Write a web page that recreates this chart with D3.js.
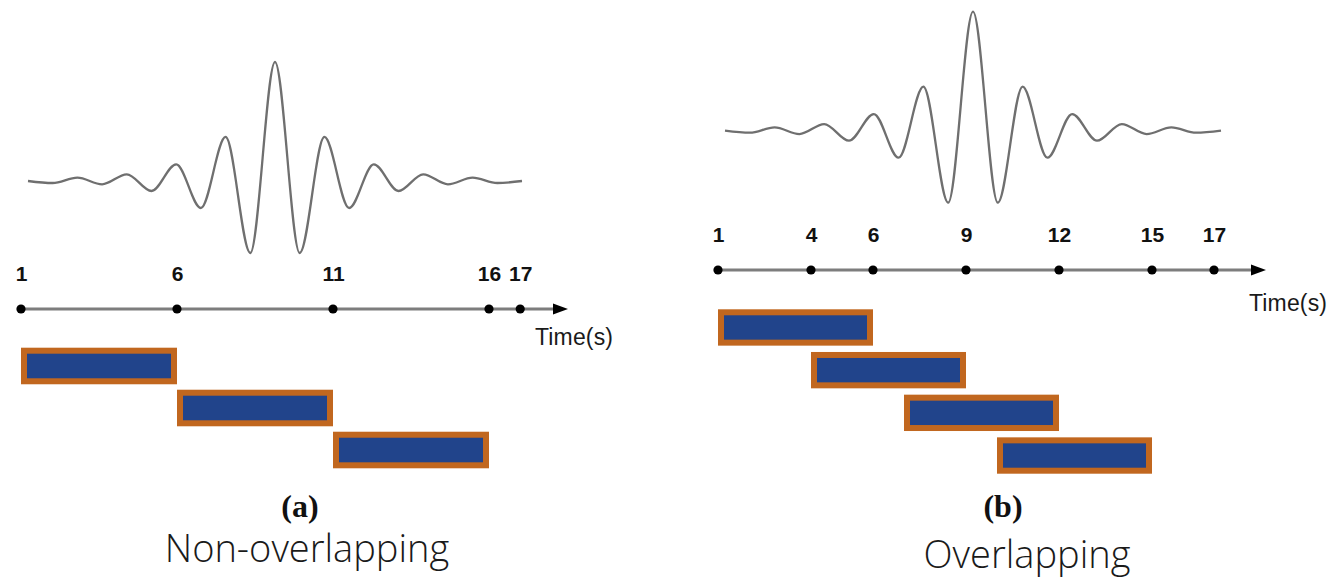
<!DOCTYPE html>
<html>
<head>
<meta charset="utf-8">
<script src="https://cdn.jsdelivr.net/npm/d3@7"></script>
<style>
  html, body { margin: 0; padding: 0; background: #fff; }
  svg { display: block; }
</style>
</head>
<body>
<svg id="chart" width="1334" height="579"></svg>
<script>
// wave shape: amplitude at each successive extremum (peak = 1)
const waveAmp = [0, -0.017, 0.028, -0.028, 0.056, -0.084, 0.14, -0.227, 0.37, -0.605, 1,
                 -0.605, 0.37, -0.227, 0.14, -0.084, 0.056, -0.028, 0.028, -0.017, 0];

// time ticks (seconds)
const ticksA = [1, 6, 11, 16, 17];
const ticksB = [1, 4, 6, 9, 12, 15, 17];

// analysis windows [start, end] in seconds
const windowsA = [[1, 6], [6, 11], [11, 16]];
const windowsB = [[1, 6], [4, 9], [7, 12], [10, 15]];

const tags = ['(a)', '(b)'];
const captions = ['Non-overlapping', 'Overlapping'];
const axisTitle = 'Time(s)';

const svg = d3.select('#chart');

const panels = [
  { ticks: ticksA, windows: windowsA, tag: tags[0], caption: captions[0],
    x0: 21, unit: 31.2, axisY: 309, axisEnd: 568,
    waveX: [28, 522], waveY: [181, 62],
    barTop: 347.7, rowStep: 40.2,
    titleX: 535, titleY: 345,
    tagX: 300, tagY: 517, capX: 307, capY: 562 },
  { ticks: ticksB, windows: windowsB, tag: tags[1], caption: captions[1],
    x0: 718, unit: 31, axisY: 270, axisEnd: 1266,
    waveX: [725, 1221], waveY: [130.7, 11.7],
    barTop: 309.3, rowStep: 41.1,
    titleX: 1249, titleY: 311,
    tagX: 1003, tagY: 517, capX: 1027, capY: 568 }
];

panels.forEach(function (p) {
  var g = svg.append('g');

  // wave
  var xw = d3.scaleLinear().domain([0, waveAmp.length - 1]).range(p.waveX);
  var yw = d3.scaleLinear().domain([0, 1]).range(p.waveY);
  var line = d3.line()
    .x(function (d, i) { return xw(i); })
    .y(function (d) { return yw(d); })
    .curve(d3.curveMonotoneX);
  g.append('path')
    .datum(waveAmp)
    .attr('d', line)
    .attr('fill', 'none')
    .attr('stroke', '#6f6f6f')
    .attr('stroke-width', 2.3);

  // time axis
  var x = d3.scaleLinear().domain([1, 17]).range([p.x0, p.x0 + 16 * p.unit]);

  g.append('line')
    .attr('x1', x(1)).attr('x2', p.axisEnd - 10)
    .attr('y1', p.axisY).attr('y2', p.axisY)
    .attr('stroke', '#7d7d7d')
    .attr('stroke-width', 2.8);

  g.append('path')
    .attr('d', 'M' + p.axisEnd + ',' + p.axisY + 'l-15,-5.5v11z')
    .attr('fill', '#000');

  var ax = g.append('g')
    .attr('transform', 'translate(0,' + p.axisY + ')')
    .call(d3.axisTop(x).tickValues(p.ticks).tickSize(0).tickPadding(28).tickFormat(d3.format('d')));
  ax.select('.domain').remove();
  ax.selectAll('text')
    .style('font-family', '"Liberation Sans", Arial, sans-serif')
    .style('font-size', '21px')
    .style('font-weight', 'bold')
    .attr('fill', '#111');

  g.selectAll('circle.tick-dot')
    .data(p.ticks)
    .enter()
    .append('circle')
    .attr('class', 'tick-dot')
    .attr('cx', function (d) { return x(d); })
    .attr('cy', p.axisY)
    .attr('r', 4.6)
    .attr('fill', '#000');

  g.append('text')
    .attr('x', p.titleX)
    .attr('y', p.titleY)
    .style('font-family', '"Liberation Sans", Arial, sans-serif')
    .style('font-size', '23px')
    .attr('fill', '#1a1a1a')
    .attr('textLength', 78)
    .text(axisTitle);

  // windows
  var n = p.windows.length;
  var row = d3.scaleBand()
    .domain(d3.range(n))
    .range([p.barTop, p.barTop + n * p.rowStep])
    .paddingInner(1 - 35 / p.rowStep)
    .paddingOuter(0);

  g.selectAll('rect.win')
    .data(p.windows)
    .enter()
    .append('rect')
    .attr('class', 'win')
    .attr('x', function (d) { return x(d[0]) + 3; })
    .attr('y', function (d, i) { return row(i) + 3; })
    .attr('width', function (d) { return x(d[1]) - x(d[0]) - 6; })
    .attr('height', row.bandwidth() - 6)
    .attr('fill', '#21448b')
    .attr('stroke', '#c1671f')
    .attr('stroke-width', 6);

  // labels
  g.append('text')
    .attr('x', p.tagX)
    .attr('y', p.tagY)
    .attr('text-anchor', 'middle')
    .style('font-family', '"Liberation Serif", "DejaVu Serif", serif')
    .style('font-size', '32px')
    .style('font-weight', 'bold')
    .attr('fill', '#111')
    .text(p.tag);

  g.append('text')
    .attr('x', p.capX)
    .attr('y', p.capY)
    .attr('text-anchor', 'middle')
    .style('font-family', '"Open Sans", sans-serif')
    .style('font-size', '38px')
    .style('font-weight', 300)
    .attr('fill', '#1a1a1a')
    .text(p.caption);
});
</script>
</body>
</html>
